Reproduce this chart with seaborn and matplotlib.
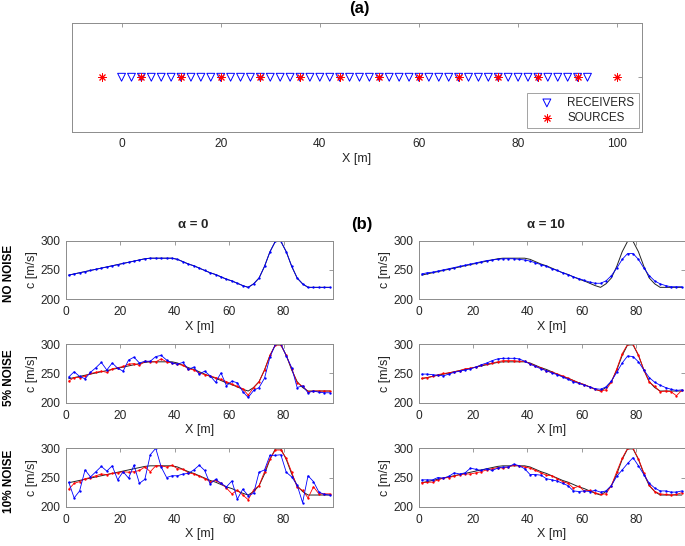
import matplotlib
matplotlib.use('Agg')
import matplotlib.pyplot as plt
import seaborn as sns

# survey geometry for panel (a)
receivers_x = [0, 2, 4, 6, 8, 10, 12, 14, 16, 18, 20, 22, 24, 26, 28, 30,
               32, 34, 36, 38, 40, 42, 44, 46, 48, 50, 52, 54, 56, 58, 60, 62,
               64, 66, 68, 70, 72, 74, 76, 78, 80, 82, 84, 86, 88, 90, 92, 94]
sources_x = [-4, 4, 12, 20, 28, 36, 44, 52, 60, 68, 76, 84, 92, 100]

# inversion cells for panel (b)
cell_x = [1, 3, 5, 7, 9, 11, 13, 15, 17, 19, 21, 23, 25, 27, 29, 31, 33,
          35, 37, 39, 41, 43, 45, 47, 49, 51, 53, 55, 57, 59, 61, 63, 65,
          67, 69, 71, 73, 75, 77, 79, 81, 83, 85, 87, 89, 91, 93, 95, 97]

# true velocity model (black)
true_c = [241, 243, 245, 247, 249, 251, 253, 255, 257, 259, 261, 263, 265, 267,
          269, 270, 270, 270, 270, 270, 268, 264, 260, 257, 253, 249, 245, 242,
          238, 234, 231, 227, 223, 220, 226, 236, 256, 281, 299, 299, 281, 256,
          236, 226, 220, 220, 220, 220, 220]

# no noise
nonoise_a0 = list(true_c)
nonoise_a10 = [243, 245, 246, 248, 250, 252, 254, 256, 258, 260, 262, 264, 266,
               267, 268, 269, 269, 269, 268, 267, 265, 262, 259, 256, 252, 249,
               245, 242, 238, 235, 232, 229, 227, 227, 231, 240, 253, 268, 278,
               278, 268, 253, 240, 231, 226, 223, 221, 221, 221]

# 5% noise (blue = inversion, red = second inversion)
n5_a0_blue = [244, 253, 245, 241, 252, 260, 269, 256, 268, 259, 254, 273, 278,
              268, 271, 271, 279, 281, 273, 268, 266, 269, 257, 261, 249, 254,
              246, 235, 251, 229, 237, 234, 219, 209, 221, 226, 242, 278, 300,
              301, 280, 260, 226, 229, 217, 220, 218, 217, 217]
n5_a0_red = [237, 243, 243, 246, 250, 252, 254, 252, 258, 260, 262, 266, 267,
             264, 271, 270, 270, 275, 270, 268, 266, 264, 258, 256, 251, 248,
             246, 243, 240, 236, 232, 228, 224, 213, 226, 236, 256, 281, 299,
             299, 281, 258, 234, 228, 219, 220, 220, 220, 220]
n5_a10_blue = [249, 249, 248, 247, 246, 249, 252, 254, 256, 258, 261, 265, 268,
               272, 275, 276, 276, 276, 275, 271, 266, 262, 258, 255, 251, 248,
               244, 240, 236, 233, 230, 227, 224, 223, 227, 237, 252, 268, 280,
               279, 270, 256, 243, 235, 230, 226, 223, 221, 222]
n5_a10_red = [242, 243, 245, 248, 250, 251, 253, 255, 258, 259, 261, 264, 266,
              268, 270, 272, 272, 272, 271, 271, 267, 263, 259, 255, 252, 249,
              246, 242, 238, 234, 231, 227, 223, 220, 222, 235, 258, 284, 300,
              300, 282, 256, 235, 228, 219, 220, 219, 212, 221]

# 10% noise
n10_a0_blue = [242, 215, 227, 263, 251, 260, 269, 261, 270, 246, 260, 249, 271,
               240, 247, 289, 300, 268, 250, 253, 253, 256, 257, 263, 271, 262,
               239, 247, 240, 234, 244, 213, 230, 219, 223, 259, 263, 288, 288,
               289, 259, 251, 237, 207, 253, 243, 225, 221, 220]
n10_a0_red = [230, 240, 243, 248, 250, 253, 256, 255, 257, 258, 260, 259, 260,
              262, 268, 260, 270, 270, 268, 271, 265, 264, 258, 256, 252, 248,
              243, 245, 240, 232, 222, 228, 220, 212, 229, 236, 260, 282, 297,
              297, 283, 259, 233, 228, 215, 234, 222, 222, 222]
n10_a10_blue = [246, 246, 246, 250, 249, 252, 258, 256, 258, 266, 264, 262, 265,
                262, 266, 268, 268, 273, 270, 265, 255, 255, 254, 248, 246, 244,
                240, 236, 227, 226, 227, 226, 228, 225, 227, 236, 252, 263, 274,
                284, 270, 255, 240, 232, 227, 227, 225, 225, 227]
n10_a10_red = [241, 242, 242, 246, 249, 250, 252, 255, 256, 256, 258, 260, 263,
               265, 267, 266, 268, 271, 270, 268, 266, 262, 258, 254, 253, 248,
               243, 240, 232, 235, 227, 228, 224, 221, 222, 236, 260, 283, 300,
               300, 282, 258, 237, 226, 222, 221, 220, 221, 224]

row_labels = ['NO NOISE', '5% NOISE', '10% NOISE']
col_titles = ['\u03b1 = 0', '\u03b1 = 10']

sns.set_style('white')
plt.rcParams['font.family'] = ['Liberation Sans', 'DejaVu Sans']

W, H = 685, 546
fig = plt.figure(figsize=(W / 100, H / 100), dpi=100)

frame = '#8c8c8c'
txt = '#262626'


def px_axes(left, top, right, bottom):
    # axes from pixel box
    return fig.add_axes([left / W, 1 - bottom / H, (right - left) / W, (bottom - top) / H])


def style_axes(ax):
    for s in ax.spines.values():
        s.set_color(frame)
        s.set_linewidth(0.7)
    ax.tick_params(direction='in', top=True, right=True, length=3,
                   width=0.6, color=frame, labelcolor=txt, labelsize=8.6)
    ax.tick_params(axis='x', pad=5)
    ax.tick_params(axis='y', pad=4)


# panel (a): acquisition geometry
ax = px_axes(72, 23, 642, 131.5)
sns.scatterplot(x=receivers_x, y=[0] * len(receivers_x), ax=ax, marker='v',
                s=32, facecolor='none', edgecolor='blue', linewidth=0.7,
                label='RECEIVERS', zorder=3)
sns.scatterplot(x=sources_x, y=[0] * len(sources_x), ax=ax, marker=(8, 2, 0),
                s=28, color='red', linewidth=0.7, label='SOURCES', zorder=4)
ax.set_xlim(-10, 105)
ax.set_ylim(-1, 1)
ax.set_xticks([0, 20, 40, 60, 80, 100])
ax.set_yticks([0])
ax.set_yticklabels([])
style_axes(ax)
ax.set_xlabel('X [m]', fontsize=9, color=txt, labelpad=2)
leg = ax.legend(loc='lower right', fontsize=8.4, frameon=True, fancybox=False,
                edgecolor=frame, borderaxespad=0.3, handletextpad=0.4,
                borderpad=0.35, labelspacing=0.25, handlelength=2.7)
leg.get_frame().set_linewidth(0.7)
for t in leg.get_texts():
    t.set_color(txt)
fig.text(359 / W, 1 - 9 / H, '(a)', ha='center', va='center',
         fontsize=12, fontweight='bold', color='black')

# panel (b): velocity profiles
cols = [(66, 332.5), (419, 684.5)]
rows = [(240.7, 299), (344.3, 402.7), (448.3, 506.7)]
blues = [[nonoise_a0, nonoise_a10], [n5_a0_blue, n5_a10_blue], [n10_a0_blue, n10_a10_blue]]
reds = [[None, None], [n5_a0_red, n5_a10_red], [n10_a0_red, n10_a10_red]]

for r, (top, bottom) in enumerate(rows):
    for c, (left, right) in enumerate(cols):
        ax = px_axes(left, top, right, bottom)
        sns.lineplot(x=cell_x, y=true_c, ax=ax, color='#222222', linewidth=0.7)
        if reds[r][c] is not None:
            sns.lineplot(x=cell_x, y=reds[r][c], ax=ax, color='red', linewidth=0.6,
                         marker='o', markersize=1.7, markeredgewidth=0)
        sns.lineplot(x=cell_x, y=blues[r][c], ax=ax, color='blue', linewidth=0.6,
                     marker='o', markersize=1.7, markeredgewidth=0)
        ax.set_xlim(0, 98)
        ax.set_ylim(200, 300)
        ax.set_xticks([0, 20, 40, 60, 80])
        ax.set_yticks([200, 250, 300])
        style_axes(ax)
        ax.set_xlabel('X [m]', fontsize=9, color=txt, labelpad=2)
        ax.set_ylabel('c [m/s]', fontsize=9, color=txt, labelpad=2)
    fig.text(9 / W, 1 - ((top + bottom) / 2 + 4) / H, row_labels[r], rotation=90,
             ha='center', va='center', fontsize=8.5, fontweight='bold', color='black')

for c, (left, right) in enumerate(cols):
    fig.text((left + right) / 2 / W - 6 / W, 1 - 225 / H, col_titles[c], ha='center',
             va='center', fontsize=9.5, fontweight='bold', color=txt)
fig.text(362 / W, 1 - 225 / H, '(b)', ha='center', va='center',
         fontsize=12, fontweight='bold', color='black')

fig.savefig('out.png', dpi=100)
